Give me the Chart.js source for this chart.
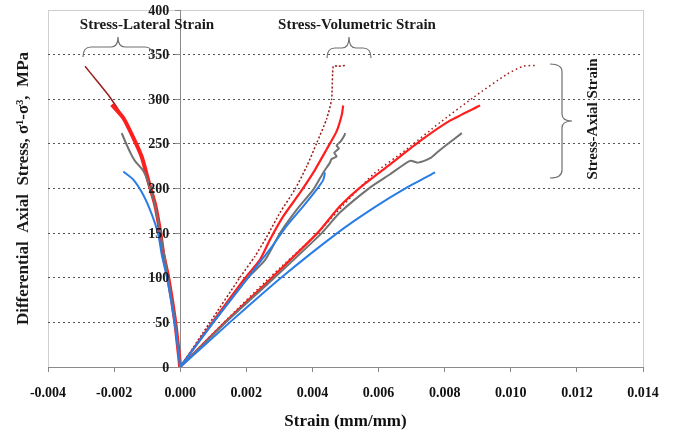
<!DOCTYPE html>
<html>
<head>
<meta charset="utf-8">
<script src="https://cdn.jsdelivr.net/npm/chart.js@4.4.1/dist/chart.umd.min.js"></script>
<style>
  html, body { margin: 0; padding: 0; background: #fff; }
</style>
</head>
<body>
<canvas id="strainChart" width="673" height="432"></canvas>
<script>

// ---- axis ranges ----
const strainRange = [-0.004, 0.014];
const strainStep = 0.002;
const stressRange = [0, 400];
const stressStep = 50;

// ---- specimen A (dark red, dotted) ----
const aLatStress = [0, 50, 100, 150, 182, 208, 235, 257, 279, 302, 321, 337];
const aLatStrain = [0, -0.00015, -0.00036, -0.0006, -0.00076, -0.00096, -0.00116, -0.00142, -0.00172, -0.00212, -0.00253, -0.00288];
const aVolStress = [0, 50, 100, 124, 146, 173, 199, 225, 251, 278, 300, 337, 337, 338];
const aVolStrain = [0, 0.0009, 0.0018, 0.00226, 0.00262, 0.00302, 0.00347, 0.00383, 0.00413, 0.00443, 0.00458, 0.00463, 0.00478, 0.00504];
const aAxStress = [0, 50, 100, 150, 180, 216, 244, 274, 302, 328, 337, 338];
const aAxStrain = [0, 0.00132, 0.0027, 0.00415, 0.0049, 0.00584, 0.00685, 0.00786, 0.00887, 0.00988, 0.01038, 0.01079];

// ---- specimen B (red) ----
const bLatStress = [0, 50, 100, 126, 152, 182, 208, 235, 257, 279, 294];
const bLatStrain = [0, -0.00015, -0.00036, -0.00051, -0.00061, -0.00076, -0.00096, -0.00116, -0.00142, -0.00172, -0.00207];
const bVolStress = [0, 50, 100, 120, 143, 169, 195, 218, 244, 264, 283, 293];
const bVolStrain = [0, 0.00097, 0.00197, 0.00241, 0.00272, 0.00312, 0.00362, 0.00403, 0.00443, 0.00473, 0.00489, 0.00493];
const bAxStress = [0, 50, 100, 150, 180, 201, 227, 253, 276, 293];
const bAxStrain = [0, 0.00135, 0.00277, 0.00415, 0.00483, 0.00544, 0.00635, 0.00725, 0.00816, 0.00907];

// ---- specimen C (grey) ----
const cLatStress = [0, 50, 100, 150, 182, 208, 220, 231, 238, 249, 262];
const cLatStrain = [0, -0.00015, -0.00037, -0.0006, -0.00077, -0.00098, -0.00112, -0.00137, -0.00148, -0.00162, -0.00177];
const cVolStress = [0, 50, 100, 120, 150, 176, 199, 218, 229, 233, 236, 240, 245, 248, 253, 259, 262];
const cVolStrain = [0, 0.001, 0.00205, 0.00257, 0.00302, 0.00352, 0.00403, 0.00433, 0.00453, 0.00458, 0.00473, 0.00466, 0.0048, 0.00473, 0.00486, 0.00496, 0.00499];
const cAxStress = [0, 50, 100, 150, 173, 201, 216, 231, 229, 234, 240, 249, 262];
const cAxStrain = [0, 0.00138, 0.00285, 0.00428, 0.00483, 0.00574, 0.00635, 0.00695, 0.0072, 0.00756, 0.00776, 0.00806, 0.00852];

// ---- specimen D (blue) ----
const dLatStress = [0, 50, 100, 126, 148, 171, 193, 210, 219];
const dLatStrain = [0, -0.00017, -0.0004, -0.00056, -0.00066, -0.00086, -0.00112, -0.00142, -0.00172];
const dVolStress = [0, 50, 100, 120, 132, 158, 180, 199, 210, 218];
const dVolStrain = [0, 0.001, 0.00205, 0.00246, 0.00272, 0.00322, 0.00372, 0.00413, 0.00433, 0.00438];
const dAxStress = [0, 50, 100, 150, 178, 201, 218];
const dAxStrain = [0, 0.0015, 0.00305, 0.00475, 0.00584, 0.00685, 0.00771];

const serif = "'Liberation Serif', 'Times New Roman', serif";

function pts(strain, stress) {
  return strain.map((s, i) => ({ x: s, y: stress[i] }));
}

function curve(strain, stress, color, width, dash) {
  return {
    data: pts(strain, stress),
    showLine: true,
    borderColor: color,
    borderWidth: width,
    borderDash: dash || [],
    pointRadius: 0,
    tension: 0.2,
    fill: false
  };
}

const DARKRED = "#9b1c1c";
const RED = "#ff1e1e";
const GREY = "#727272";
const BLUE = "#2a7de6";

// ---- frame, braces and labels ----
function hBrace(ctx, x1, x2, xc, yEnd, yBar, yTip) {
  ctx.beginPath();
  ctx.moveTo(x1, yEnd);
  ctx.quadraticCurveTo(x1, yBar, x1 + 8, yBar);
  ctx.lineTo(xc - 7, yBar);
  ctx.quadraticCurveTo(xc, yBar, xc, yTip);
  ctx.quadraticCurveTo(xc, yBar, xc + 7, yBar);
  ctx.lineTo(x2 - 8, yBar);
  ctx.quadraticCurveTo(x2, yBar, x2, yEnd);
  ctx.stroke();
}

function vBrace(ctx, y1, y2, yc, xEnd, xBar, xTip) {
  ctx.beginPath();
  ctx.moveTo(xEnd, y1);
  ctx.quadraticCurveTo(xBar, y1, xBar, y1 + 8);
  ctx.lineTo(xBar, yc - 7);
  ctx.quadraticCurveTo(xBar, yc, xTip, yc);
  ctx.quadraticCurveTo(xBar, yc, xBar, yc + 7);
  ctx.lineTo(xBar, y2 - 8);
  ctx.quadraticCurveTo(xBar, y2, xEnd, y2);
  ctx.stroke();
}

const decorations = {
  id: "decorations",
  beforeDraw(chart) {
    const { ctx, chartArea: a } = chart;
    ctx.save();
    ctx.fillStyle = "#fff";
    ctx.fillRect(0, 0, chart.width, chart.height);
    ctx.strokeStyle = "#cfcfcf";
    ctx.lineWidth = 1;
    ctx.strokeRect(Math.round(a.left) + 0.5, Math.round(a.top) + 0.5,
      Math.round(a.right - a.left), Math.round(a.bottom - a.top));
    ctx.restore();
  },
  afterDraw(chart) {
    const { ctx, chartArea: a, scales } = chart;
    ctx.save();
    ctx.fillStyle = "#1a1a1a";

    // stress tick labels, set off to the left of the zero-strain axis
    const x0 = scales.x.getPixelForValue(0);
    ctx.font = "bold 14px " + serif;
    ctx.textAlign = "right";
    ctx.textBaseline = "middle";
    scales.y.ticks.forEach(t => {
      ctx.fillText(String(t.value), x0 - 11, scales.y.getPixelForValue(t.value) + 1);
    });

    ctx.textAlign = "center";
    ctx.font = "bold 15px " + serif;
    ctx.fillText("Stress-Lateral Strain", 147, 25);
    ctx.fillText("Stress-Volumetric Strain", 357, 25);

    ctx.save();
    ctx.translate(593, 119);
    ctx.rotate(-Math.PI / 2);
    ctx.fillText("Stress-Axial Strain", 0, 0);
    ctx.restore();

    // y-axis title
    ctx.save();
    ctx.translate(24, (a.top + a.bottom) / 2);
    ctx.rotate(-Math.PI / 2);
    ctx.font = "bold 17px " + serif;
    ctx.fillText("Differential  Axial  Stress, \u03c3\u00b9-\u03c3\u00b3,  MPa", 0, 0);
    ctx.restore();

    ctx.strokeStyle = "#6f6f6f";
    ctx.lineWidth = 1.2;
    hBrace(ctx, 83, 153, 118, 57, 47, 37);
    hBrace(ctx, 327, 371, 349, 58, 48, 37);
    vBrace(ctx, 64, 178, 121, 550, 562, 572);
    ctx.restore();
  }
};

const ctx = document.getElementById("strainChart").getContext("2d");

new Chart(ctx, {
  type: "scatter",
  data: {
    datasets: [
      curve(dLatStrain, dLatStress, BLUE, 2),
      curve(dVolStrain, dVolStress, BLUE, 2),
      curve(dAxStrain, dAxStress, BLUE, 2),
      curve(cLatStrain, cLatStress, GREY, 2),
      curve(cVolStrain, cVolStress, GREY, 2),
      curve(cAxStrain, cAxStress, GREY, 2),
      curve(bLatStrain, bLatStress, RED, 4),
      curve(bVolStrain, bVolStress, RED, 2.2),
      curve(bAxStrain, bAxStress, RED, 2.2),
      curve(aLatStrain, aLatStress, DARKRED, 1.5),
      curve(aVolStrain, aVolStress, DARKRED, 1.5, [2, 2]),
      curve(aAxStrain, aAxStress, DARKRED, 1.5, [1.5, 3])
    ]
  },
  options: {
    responsive: false,
    animation: false,
    events: [],
    layout: { padding: { left: 48, right: 30, top: 10, bottom: 0 } },
    plugins: {
      legend: { display: false },
      tooltip: { enabled: false }
    },
    scales: {
      x: {
        type: "linear",
        position: "bottom",
        min: strainRange[0],
        max: strainRange[1],
        afterFit: s => { s.height = 65; },
        ticks: {
          stepSize: strainStep,
          padding: 13,
          color: "#111",
          font: { family: serif, size: 14, weight: "bold" },
          callback: v => (Math.abs(v) < 1e-9 ? 0 : v).toFixed(3)
        },
        grid: {
          drawOnChartArea: false,
          drawTicks: true,
          tickLength: 5,
          tickColor: "#8a8a8a",
          color: "#8a8a8a"
        },
        border: { color: "#8a8a8a", width: 1 },
        title: {
          display: true,
          text: "Strain (mm/mm)",
          color: "#111",
          padding: { top: 0, bottom: 0 },
          font: { family: serif, size: 17, weight: "bold" }
        }
      },
      y: {
        type: "linear",
        position: { x: 0 },
        min: stressRange[0],
        max: stressRange[1],
        afterFit: s => { s.width = 0; },
        ticks: {
          stepSize: stressStep,
          display: false
        },
        grid: {
          color: c => (c.tick && (c.tick.value === 0 || c.tick.value === 400)) ? "rgba(0,0,0,0)" : "#555",
          lineWidth: 1,
          tickLength: 5,
          tickColor: "#8a8a8a",
          tickBorderDash: []
        },
        border: { color: "#8a8a8a", width: 1, dash: [2, 3] }
      }
    }
  },
  plugins: [decorations]
});

</script>
</body>
</html>
